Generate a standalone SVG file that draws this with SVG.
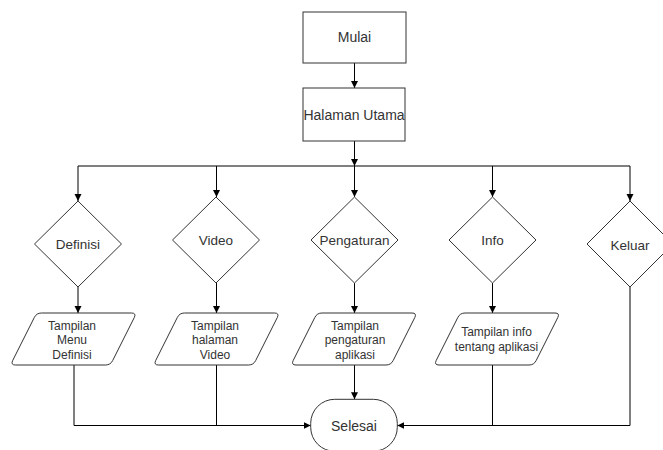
<svg xmlns="http://www.w3.org/2000/svg" width="663" height="450" viewBox="0 0 663 450">
<defs>
<marker id="arr" markerWidth="8" markerHeight="8" refX="7" refY="3.5" orient="auto" markerUnits="userSpaceOnUse">
<path d="M0,0 L7,3.5 L0,7 Z" fill="#000"/>
</marker>
<style>
.shape{fill:#fff;stroke:#333;stroke-width:1}
.t{font-family:"Liberation Sans",Arial,sans-serif;fill:#333;text-anchor:middle}
.big{font-size:14px}
.mid{font-size:13.5px}
.sm{font-size:12px}
.c{fill:none;stroke:#000;stroke-width:1}
.ca{fill:none;stroke:#000;stroke-width:1;marker-end:url(#arr)}
</style>
</defs>
<rect width="663" height="450" fill="#fff"/>
<g id="connectors">
<line class="ca" x1="354.5" y1="63" x2="354.5" y2="88"/>
<line class="ca" x1="354.5" y1="141" x2="354.5" y2="166"/>
<line class="c" x1="78" y1="166" x2="630" y2="166"/>
<line class="ca" x1="78" y1="166" x2="78" y2="201"/>
<line class="ca" x1="216.5" y1="166" x2="216.5" y2="197"/>
<line class="ca" x1="354.5" y1="166" x2="354.5" y2="197"/>
<line class="ca" x1="492.5" y1="166" x2="492.5" y2="197"/>
<line class="ca" x1="630" y1="166" x2="630" y2="201"/>
<line class="ca" x1="78" y1="287" x2="78" y2="313"/>
<line class="ca" x1="216.5" y1="283" x2="216.5" y2="313"/>
<line class="ca" x1="354.5" y1="283" x2="354.5" y2="313"/>
<line class="ca" x1="492.5" y1="283" x2="492.5" y2="313"/>
<polyline class="ca" points="74,365 74,425.5 310.7,425.5"/>
<line class="c" x1="216.5" y1="365" x2="216.5" y2="425.5"/>
<line class="ca" x1="354.5" y1="365" x2="354.5" y2="399.3"/>
<line class="c" x1="492.5" y1="365" x2="492.5" y2="425.5"/>
<polyline class="ca" points="630,287 630,425.5 397.3,425.5"/>
</g>
<g id="mulai">
<rect class="shape" x="303" y="12" width="103" height="51"/>
<text class="t big" x="354.5" y="42">Mulai</text>
</g>
<g id="halaman-utama">
<rect class="shape" x="303" y="88" width="102" height="53"/>
<text class="t big" x="354" y="120">Halaman Utama</text>
</g>
<g id="definisi">
<polygon class="shape" points="78,201 121.5,244 78,287 34.5,244"/>
<text class="t mid" x="78" y="248.5">Definisi</text>
</g>
<g id="video">
<polygon class="shape" points="216,197 259.5,240 216,283 172.5,240"/>
<text class="t mid" x="216" y="244.5">Video</text>
</g>
<g id="pengaturan">
<polygon class="shape" points="354.5,197 398,240 354.5,283 311,240"/>
<text class="t mid" x="354.5" y="244.5">Pengaturan</text>
</g>
<g id="info">
<polygon class="shape" points="492.5,197 536,240 492.5,283 449,240"/>
<text class="t mid" x="492.5" y="244.5">Info</text>
</g>
<g id="keluar">
<polygon class="shape" points="630,201 673,244 630,287 587,244"/>
<text class="t mid" x="630" y="249.5">Keluar</text>
</g>
<g id="tampilan-definisi">
<path class="shape" d="M41.5,313 H131.5 Q136.5,313 134.3,317.5 L112.7,360.5 Q110.5,365 105.5,365 H15.5 Q10.5,365 12.7,360.5 L34.3,317.5 Q36.5,313 41.5,313Z"/>
<text class="t sm" x="72" y="329.5">Tampilan</text>
<text class="t sm" x="72" y="344">Menu</text>
<text class="t sm" x="72" y="358.5">Definisi</text>
</g>
<g id="tampilan-video">
<path class="shape" d="M184.5,313 H274.5 Q279.5,313 277.3,317.5 L255.7,360.5 Q253.5,365 248.5,365 H158.5 Q153.5,365 155.7,360.5 L177.3,317.5 Q179.5,313 184.5,313Z"/>
<text class="t sm" x="215" y="329.5">Tampilan</text>
<text class="t sm" x="215" y="344">halaman</text>
<text class="t sm" x="215" y="358.5">Video</text>
</g>
<g id="tampilan-pengaturan">
<path class="shape" d="M322,313 H412 Q417,313 414.8,317.5 L393.2,360.5 Q391,365 386,365 H296 Q291,365 293.2,360.5 L314.8,317.5 Q317,313 322,313Z"/>
<text class="t sm" x="355" y="329.5">Tampilan</text>
<text class="t sm" x="355" y="344">pengaturan</text>
<text class="t sm" x="355" y="358.5">aplikasi</text>
</g>
<g id="tampilan-info">
<path class="shape" d="M465,313 H555 Q560,313 557.8,317.5 L536.2,360.5 Q534,365 529,365 H439 Q434,365 436.2,360.5 L457.8,317.5 Q460,313 465,313Z"/>
<text class="t sm" x="496.5" y="336">Tampilan info</text>
<text class="t sm" x="496.5" y="350.5">tentang aplikasi</text>
</g>
<g id="selesai">
<rect class="shape" x="310.7" y="399.3" width="86.6" height="52" rx="24" ry="24"/>
<text class="t big" x="354" y="430.5">Selesai</text>
</g>
</svg>
